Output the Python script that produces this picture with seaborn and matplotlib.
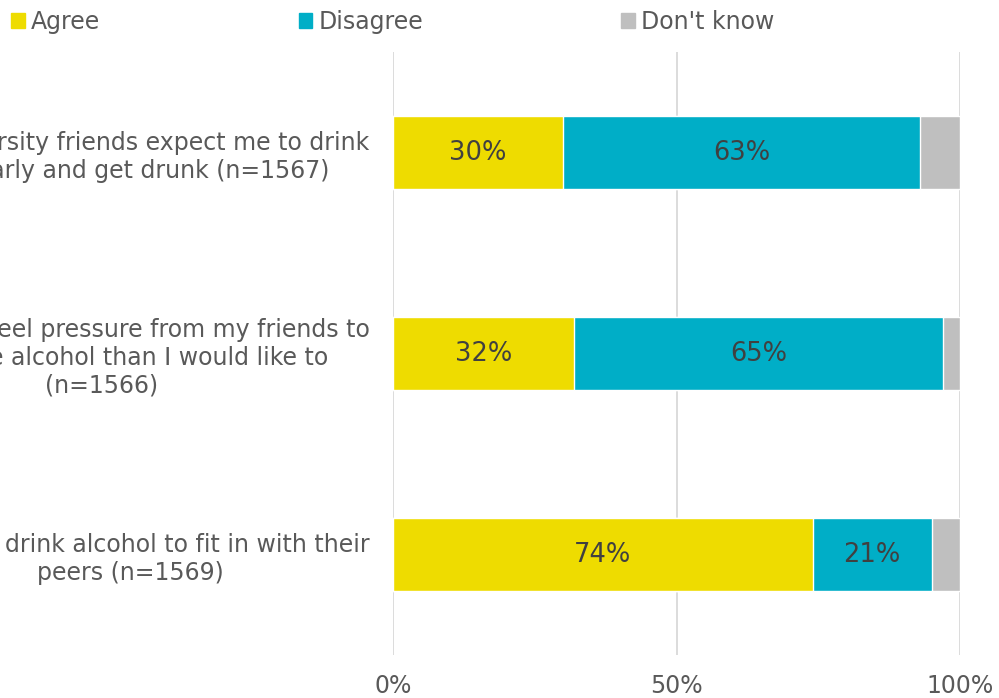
import matplotlib
matplotlib.use("Agg")
import matplotlib.pyplot as plt
import seaborn as sns
import pandas as pd
from matplotlib.patches import Patch

statements = [
    "My university friends expect me to drink\nregularly and get drunk (n=1567)",
    "Sometimes I feel pressure from my friends to\ndrink more alcohol than I would like to\n(n=1566)",
    "Students drink alcohol to fit in with their\npeers (n=1569)",
]
agree = [30, 32, 74]
disagree = [63, 65, 21]
dont_know = [7, 3, 5]

c_agree = "#EEDC00"
c_disagree = "#00AEC7"
c_dk = "#BFBFBF"
txt = "#595959"
fs = 17

sns.set_theme(style="white")
plt.rcParams["font.family"] = ["DejaVu Sans"]

df = pd.DataFrame({"statement": statements, "agree": agree,
                   "disagree": disagree, "dont_know": dont_know})
df["cum2"] = df["agree"] + df["disagree"]
df["cum3"] = df["cum2"] + df["dont_know"]

fig = plt.figure(figsize=(9.99, 6.98), dpi=100)
ax = fig.add_axes([0.3934, 0.0616, 0.961 - 0.3934, 0.9255 - 0.0616])

# stacked bars: draw cumulative totals, widest first
sns.barplot(data=df, x="cum3", y="statement", color=c_dk, width=0.36,
            saturation=1, ax=ax)
sns.barplot(data=df, x="cum2", y="statement", color=c_disagree, width=0.36,
            saturation=1, ax=ax)
sns.barplot(data=df, x="agree", y="statement", color=c_agree, width=0.36,
            saturation=1, ax=ax)

for i, row in df.iterrows():
    ax.text(row["agree"] / 2, i, f"{row['agree']}%", ha="center", va="center",
            fontsize=18.5, color="#404040")
    ax.text(row["agree"] + row["disagree"] / 2, i, f"{row['disagree']}%",
            ha="center", va="center", fontsize=18.5, color="#404040")

ax.set_xlim(0, 100)
ax.set_ylim(2.5, -0.5)
ax.set_xticks([0, 50, 100])
ax.set_xticklabels(["0%", "50%", "100%"])
ax.xaxis.grid(True, color="#D9D9D9", linewidth=1.3)
ax.set_axisbelow(True)
for s in ax.spines.values():
    s.set_visible(False)
ax.set_xlabel("")
ax.set_ylabel("")
ax.tick_params(axis="x", length=0, pad=13.5, labelsize=fs, labelcolor=txt)
ax.tick_params(axis="y", length=0, pad=17, labelsize=fs, labelcolor=txt)
for lab in ax.get_yticklabels():
    lab.set_multialignment("center")
    lab.set_verticalalignment("center_baseline")

handles = [Patch(color=c_agree, label="Agree"),
           Patch(color=c_disagree, label="Disagree"),
           Patch(color=c_dk, label="Don't know")]
fig.legend(handles=handles, loc="upper left", bbox_to_anchor=(0.002, 0.999),
           ncol=3, frameon=False, fontsize=fs, labelcolor=txt,
           handlelength=0.58, handleheight=0.58, handletextpad=0.25,
           columnspacing=8.4, borderaxespad=0)

fig.savefig("out.png", dpi=100)
